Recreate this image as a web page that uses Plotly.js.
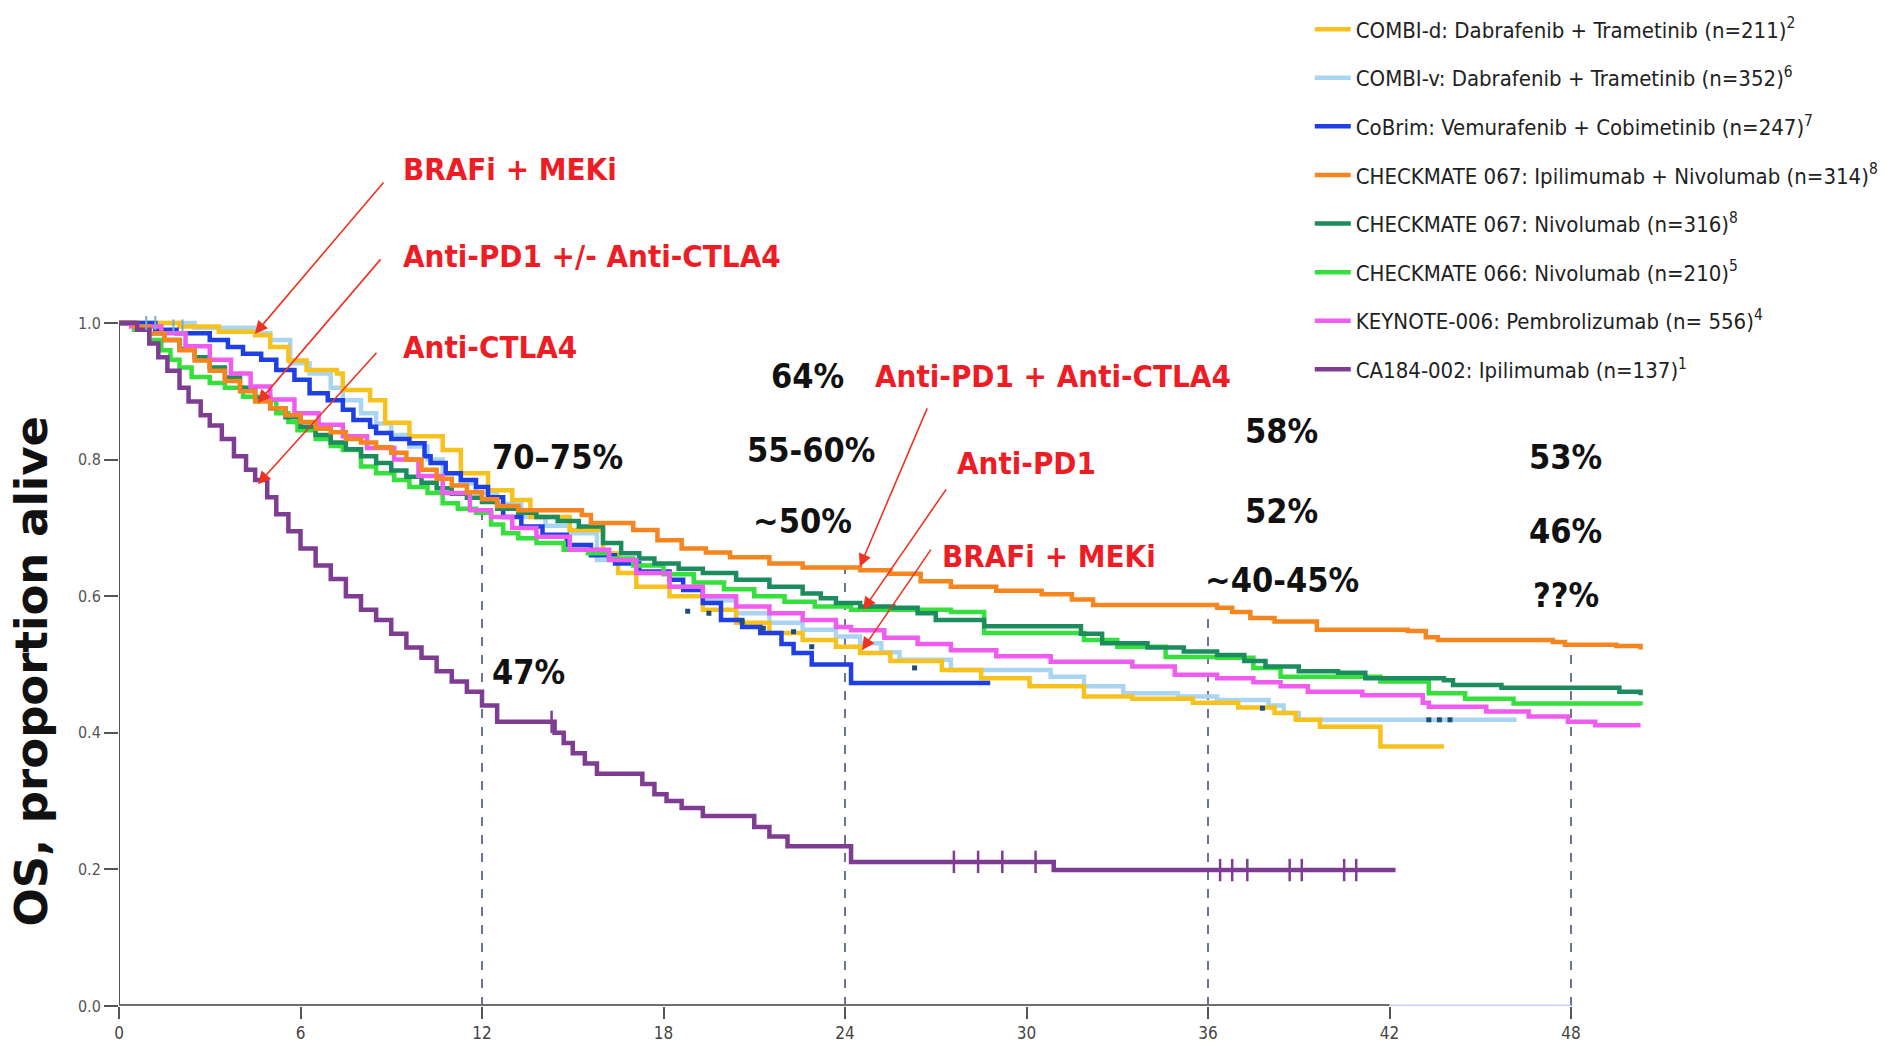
<!DOCTYPE html>
<html>
<head>
<meta charset="utf-8">
<script src="https://cdn.plot.ly/plotly-3.0.1.min.js"></script>
<style>
  html, body { margin: 0; padding: 0; background: #fff; }
  #chart { width: 1895px; height: 1049px; }
</style>
</head>
<body>
<div id="chart"></div>
<script>
// ---------------- DATA ----------------
const seriesNames = [
  "COMBI-d: Dabrafenib + Trametinib (n=211)<sup>2</sup>",
  "COMBI-v: Dabrafenib + Trametinib (n=352)<sup>6</sup>",
  "CoBrim: Vemurafenib + Cobimetinib (n=247)<sup>7</sup>",
  "CHECKMATE 067: Ipilimumab + Nivolumab (n=314)<sup>8</sup>",
  "CHECKMATE 067: Nivolumab (n=316)<sup>8</sup>",
  "CHECKMATE 066: Nivolumab (n=210)<sup>5</sup>",
  "KEYNOTE-006: Pembrolizumab (n= 556)<sup>4</sup>",
  "CA184-002: Ipilimumab (n=137)<sup>1</sup>"
];

// months (x) and proportion alive (y), step curves
const combiD_x = [0, 2.0, 3.3, 4.5, 5.0, 5.6, 6.2, 7.2, 7.4, 8.3, 8.8, 9.6, 10.7, 11.3, 12.2, 13.0, 13.6, 14.9, 16.0, 16.5, 17.1, 18.2, 19.3, 20.4, 21.5, 22.6, 23.7, 24.5, 25.5, 27.2, 28.5, 30.1, 31.9, 33.5, 35.5, 37.0, 38.2, 38.9, 39.7, 41.7, 43.8];
const combiD_y = [1.0, 0.995, 0.987, 0.982, 0.965, 0.945, 0.931, 0.926, 0.902, 0.887, 0.854, 0.834, 0.814, 0.78, 0.755, 0.741, 0.716, 0.697, 0.663, 0.634, 0.614, 0.60, 0.58, 0.561, 0.546, 0.536, 0.526, 0.517, 0.505, 0.492, 0.48, 0.468, 0.453, 0.45, 0.444, 0.437, 0.429, 0.419, 0.409, 0.38, 0.38];

const combiV_x = [0, 2.5, 4.6, 5.0, 5.66, 6.3, 7.0, 7.4, 8.0, 8.5, 9.0, 9.6, 10.2, 10.7, 11.3, 11.8, 12.5, 13.3, 14.1, 14.9, 15.8, 17.1, 18.2, 19.3, 20.4, 21.5, 22.6, 23.7, 24.5, 25.2, 25.8, 27.5, 30.8, 31.9, 33.2, 35.0, 36.3, 38.0, 38.5, 39.0, 46.2];
const combiV_y = [1.0, 0.993, 0.985, 0.975, 0.941, 0.926, 0.905, 0.887, 0.868, 0.853, 0.836, 0.819, 0.80, 0.78, 0.765, 0.751, 0.735, 0.716, 0.703, 0.692, 0.653, 0.634, 0.614, 0.594, 0.575, 0.561, 0.551, 0.541, 0.531, 0.518, 0.507, 0.492, 0.482, 0.468, 0.458, 0.453, 0.448, 0.44, 0.429, 0.419, 0.419];

const cobrim_x = [0, 1.2, 1.9, 3.0, 3.6, 4.1, 4.7, 5.2, 5.8, 6.3, 6.9, 7.4, 7.75, 8.3, 8.5, 9.0, 9.6, 10.1, 10.3, 10.8, 11.3, 11.8, 12.2, 12.7, 13.3, 14.0, 14.8, 15.6, 16.4, 17.2, 18.2, 18.65, 19.3, 19.9, 20.6, 21.2, 21.9, 22.3, 22.9, 24.2, 28.8];
const cobrim_y = [1.0, 0.99, 0.985, 0.975, 0.965, 0.955, 0.946, 0.931, 0.917, 0.897, 0.887, 0.873, 0.858, 0.848, 0.839, 0.83, 0.824, 0.805, 0.795, 0.78, 0.77, 0.76, 0.745, 0.716, 0.702, 0.69, 0.675, 0.66, 0.648, 0.636, 0.624, 0.609, 0.59, 0.565, 0.555, 0.546, 0.53, 0.517, 0.50, 0.473, 0.473];

const cm067combo_x = [0, 0.5, 1, 1.5, 2, 2.5, 3, 3.5, 4, 4.5, 5, 5.5, 6, 6.5, 7, 7.5, 8, 8.5, 9, 9.5, 10, 10.5, 11, 11.5, 12, 12.5, 13.2, 15.3, 15.6, 17.0, 17.8, 18.6, 19.4, 20.2, 21.5, 22.6, 24.5, 25.5, 26.5, 27.5, 29.0, 30.5, 31.5, 32.2, 36.3, 36.8, 37.4, 38.2, 39.6, 42.6, 43.2, 43.6, 47.4, 47.8, 49.5, 50.3];
const cm067combo_y = [1, 0.995, 0.985, 0.975, 0.96, 0.945, 0.93, 0.915, 0.90, 0.885, 0.875, 0.865, 0.855, 0.845, 0.84, 0.83, 0.825, 0.818, 0.81, 0.80, 0.785, 0.772, 0.762, 0.752, 0.742, 0.732, 0.726, 0.719, 0.707, 0.697, 0.682, 0.670, 0.664, 0.657, 0.648, 0.642, 0.638, 0.633, 0.622, 0.614, 0.608, 0.603, 0.595, 0.587, 0.583, 0.577, 0.568, 0.563, 0.551, 0.549, 0.540, 0.536, 0.533, 0.529, 0.527, 0.522];

const cm067nivo_x = [0, 0.5, 1, 1.5, 2, 2.5, 3, 3.5, 4, 4.5, 5, 5.5, 6, 6.5, 7, 7.5, 8, 8.5, 9, 9.5, 10, 10.5, 11, 11.5, 12, 12.5, 13.2, 13.8, 14.5, 15.2, 16.0, 16.6, 17.2, 17.7, 18.5, 19.3, 20.4, 21.5, 22.6, 23.2, 23.7, 24.5, 25.6, 26.4, 27.0, 28.6, 31.8, 32.5, 34.0, 35.2, 36.3, 37.2, 37.9, 39.0, 40.3, 41.2, 43.8, 44.1, 45.7, 49.6, 50.3];
const cm067nivo_y = [1, 0.995, 0.985, 0.975, 0.962, 0.95, 0.935, 0.92, 0.905, 0.89, 0.875, 0.862, 0.848, 0.836, 0.825, 0.815, 0.805, 0.795, 0.784, 0.775, 0.766, 0.758, 0.75, 0.744, 0.738, 0.728, 0.722, 0.716, 0.71, 0.702, 0.678, 0.663, 0.655, 0.648, 0.64, 0.634, 0.624, 0.614, 0.604, 0.597, 0.59, 0.585, 0.583, 0.575, 0.565, 0.556, 0.545, 0.531, 0.525, 0.519, 0.514, 0.505, 0.497, 0.49, 0.488, 0.48, 0.477, 0.47, 0.466, 0.46, 0.455];

const cm066_x = [0, 0.5, 1.0, 1.4, 1.7, 2.0, 2.4, 3.0, 3.5, 4.1, 4.6, 5.2, 5.6, 5.9, 6.5, 7.0, 7.4, 8.0, 8.5, 9.1, 9.6, 10.2, 10.7, 11.2, 11.8, 12.3, 12.7, 13.2, 13.8, 14.7, 15.5, 16.2, 17.0, 18.0, 19.0, 20.0, 21.0, 22.0, 23.0, 24.2, 27.5, 28.6, 31.9, 33.0, 34.6, 36.3, 37.5, 38.4, 41.7, 43.3, 44.5, 46.1, 50.3];
const cm066_y = [1, 0.99, 0.975, 0.96, 0.946, 0.935, 0.921, 0.912, 0.905, 0.892, 0.887, 0.868, 0.855, 0.843, 0.83, 0.82, 0.814, 0.79, 0.78, 0.77, 0.76, 0.751, 0.736, 0.728, 0.722, 0.705, 0.692, 0.685, 0.678, 0.668, 0.663, 0.655, 0.645, 0.632, 0.62, 0.61, 0.60, 0.592, 0.585, 0.58, 0.577, 0.546, 0.536, 0.526, 0.511, 0.51, 0.495, 0.482, 0.475, 0.458, 0.45, 0.443, 0.44];

const kn006_x = [0, 0.4, 1.4, 2.2, 3.0, 3.7, 4.35, 5.0, 5.8, 6.6, 7.4, 8.2, 9.1, 9.9, 10.7, 11.6, 12.3, 13.0, 13.8, 14.9, 16.2, 17.1, 18.2, 19.3, 20.4, 21.5, 22.6, 23.7, 24.2, 25.3, 26.4, 27.5, 29.0, 30.8, 33.5, 34.9, 36.3, 37.5, 38.4, 39.3, 41.1, 43.1, 43.3, 45.2, 46.6, 47.9, 48.8, 50.3];
const kn006_y = [1, 0.995, 0.985, 0.966, 0.946, 0.926, 0.907, 0.888, 0.868, 0.851, 0.834, 0.817, 0.80, 0.776, 0.751, 0.726, 0.716, 0.70, 0.687, 0.668, 0.653, 0.634, 0.614, 0.60, 0.585, 0.575, 0.565, 0.555, 0.55, 0.539, 0.53, 0.521, 0.512, 0.504, 0.497, 0.485, 0.48, 0.474, 0.468, 0.46, 0.455, 0.444, 0.438, 0.431, 0.424, 0.416, 0.411, 0.411];

const ca184_x = [0, 0.6, 1.0, 1.3, 1.6, 2.0, 2.3, 2.7, 3.0, 3.4, 3.8, 4.2, 4.5, 4.9, 5.2, 5.6, 6.0, 6.5, 7.0, 7.5, 8.0, 8.5, 9.0, 9.5, 10.0, 10.5, 11.0, 11.5, 12.0, 12.5, 14.4, 14.7, 15.0, 15.4, 15.8, 17.3, 17.7, 18.1, 18.6, 19.3, 21.0, 21.5, 22.1, 24.2, 30.9, 42.2];
const ca184_y = [1.0, 0.99, 0.97, 0.95, 0.93, 0.905, 0.885, 0.865, 0.85, 0.83, 0.805, 0.785, 0.77, 0.745, 0.72, 0.695, 0.67, 0.645, 0.625, 0.60, 0.58, 0.565, 0.545, 0.525, 0.51, 0.49, 0.475, 0.46, 0.44, 0.416, 0.40, 0.385, 0.37, 0.355, 0.34, 0.325, 0.31, 0.30, 0.29, 0.278, 0.262, 0.248, 0.234, 0.211, 0.199, 0.199];

// censoring tick marks
const ca184Cens_x = [14.3, 27.6, 28.4, 29.2, 30.3, 36.4, 36.8, 37.3, 38.7, 39.1, 40.5, 40.9];
const ca184Cens_y = [0.416, 0.211, 0.211, 0.211, 0.211, 0.199, 0.199, 0.199, 0.199, 0.199, 0.199, 0.199];
const combiVCens_x = [0.9, 1.2, 1.8, 2.1];
const combiVCens_y = [1.0, 1.0, 0.995, 0.995];
const darkCens_x = [18.8, 19.5, 20.6, 21.3, 22.3, 22.9, 26.3, 37.8, 43.3, 43.65, 44.0];
const darkCens_y = [0.578, 0.575, 0.563, 0.553, 0.548, 0.526, 0.495, 0.436, 0.419, 0.419, 0.419];

// landmark lines (month, height of dashed line)
const landmarkMonths = [12, 24, 36, 48];
const landmarkTops = [0.75, 0.64, 0.58, 0.52];

// axis ticks
const xTicks = [0, 6, 12, 18, 24, 30, 36, 42, 48];
const yTicks = [0, 0.2, 0.4, 0.6, 0.8, 1.0];
const yTickText = ["0.0", "0.2", "0.4", "0.6", "0.8", "1.0"];
const yTitleText = "OS, proportion alive";

// black landmark percentages: [text, month, y]
const pctLabels = ["70\u201375%", "47%", "64%", "55-60%", "~50%", "58%", "52%", "~40-45%", "53%", "46%", "??%"];
const pctX = [14.49, 13.53, 22.75, 22.88, 22.58, 38.44, 38.44, 38.44, 47.82, 47.82, 47.82];
const pctY = [0.804, 0.489, 0.922, 0.814, 0.710, 0.842, 0.725, 0.624, 0.804, 0.695, 0.602];

// red class labels (left edge in months, vertical centre in paper units)
const classLabels = ["BRAFi + MEKi", "Anti-PD1 +/- Anti-CTLA4", "Anti-CTLA4", "Anti-PD1 + Anti-CTLA4", "Anti-PD1", "BRAFi + MEKi"];
const classX = [9.33, 9.33, 9.33, 24.93, 27.63, 27.14];
const classY = [1.156, 1.036, 0.910, 0.870, 0.750, 0.6215];

// red arrows: head (month, y), tail offset in px
const arrowX = [4.49, 4.59, 4.59, 24.49, 24.6, 24.56];
const arrowY = [0.984, 0.883, 0.764, 0.643, 0.58, 0.521];
const arrowAX = [130, 124, 120, 68, 84, 70];
const arrowAY = [-153, -145, -133, -160, -122, -102];

// ---------------- STYLE ----------------
const colors = ["#F7C11E", "#A9D4F2", "#1D3FE3", "#F5851F", "#1C8C5E", "#35E03C", "#EF5CEF", "#7E3C93"];
const narrow = "'Liberation Sans Narrow', 'Arial Narrow', 'DejaVu Sans Condensed', sans-serif";

const xs = [combiD_x, combiV_x, cobrim_x, cm067combo_x, cm067nivo_x, cm066_x, kn006_x, ca184_x];
const ys = [combiD_y, combiV_y, cobrim_y, cm067combo_y, cm067nivo_y, cm066_y, kn006_y, ca184_y];
// drawing order (bottom -> top)
const drawOrder = [1, 0, 2, 5, 4, 6, 3, 7];

const traces = drawOrder.map(i => ({
  type: "scatter", mode: "lines",
  x: xs[i], y: ys[i],
  name: seriesNames[i],
  legendgroup: "g" + i,
  legendrank: i + 1,
  line: { shape: "hv", color: colors[i], width: 4.5 },
  hoverinfo: "name+x+y"
}));

traces.push({
  type: "scatter", mode: "markers", x: combiVCens_x, y: combiVCens_y, showlegend: false,
  marker: { symbol: "line-ns", size: 10, line: { width: 2, color: "#7FA9CC" } }, hoverinfo: "skip"
});
traces.push({
  type: "scatter", mode: "markers", x: darkCens_x, y: darkCens_y, showlegend: false,
  marker: { symbol: "square", size: 5, color: "#1F4E79" }, hoverinfo: "skip"
});
traces.push({
  type: "scatter", mode: "markers", x: ca184Cens_x, y: ca184Cens_y, showlegend: false,
  marker: { symbol: "line-ns", size: 16, line: { width: 2.5, color: colors[7] } }, hoverinfo: "skip"
});

const shapes = [];
landmarkMonths.forEach((m, k) => {
  shapes.push({ type: "line", xref: "x", yref: "y", x0: m, x1: m, y0: 0, y1: landmarkTops[k],
    line: { color: "#2B3A6B", width: 1.4, dash: "dash" }, layer: "below" });
});
shapes.push({ type: "line", xref: "x", yref: "y", x0: 0, x1: 0, y0: 0, y1: 1.0, line: { color: "#555", width: 2 } });
shapes.push({ type: "line", xref: "x", yref: "y", x0: 42, x1: 48, y0: 0, y1: 0, line: { color: "#C9D1F2", width: 3 } });
shapes.push({ type: "line", xref: "x", yref: "y", x0: 0, x1: 42, y0: 0, y1: 0, line: { color: "#6E6E6E", width: 4 } });

const annotations = [];
// y-axis title, placed where the reference has it
annotations.push({
  xref: "paper", yref: "paper", x: -0.0562, y: 0.4627, text: yTitleText, showarrow: false,
  textangle: -90, xanchor: "center", yanchor: "middle",
  font: { family: "'DejaVu Sans', sans-serif", size: 45, color: "#111", weight: "bold" }
});
pctLabels.forEach((t, k) => annotations.push({
  xref: "x", yref: "y", x: pctX[k], y: pctY[k], text: t, showarrow: false,
  xanchor: "center", yanchor: "middle",
  font: { family: narrow, size: 34, color: "#111", weight: "bold" }
}));
classLabels.forEach((t, k) => annotations.push({
  xref: "x", yref: "paper", x: classX[k], y: classY[k], text: t, showarrow: false,
  xanchor: "left", yanchor: "middle",
  font: { family: narrow, size: 31, color: "#EE1C25", weight: "bold" }
}));
arrowX.forEach((ax, k) => annotations.push({
  xref: "x", yref: "y", x: ax, y: arrowY[k], text: "", showarrow: true,
  ax: arrowAX[k], ay: arrowAY[k], arrowcolor: "#EE3322", arrowwidth: 1.6,
  arrowhead: 2, arrowsize: 1.6
}));

const layout = {
  width: 1895, height: 1049,
  margin: { l: 118.5, r: 202.5, t: 282, b: 43, autoexpand: false },
  paper_bgcolor: "#fff", plot_bgcolor: "#fff",
  showlegend: true,
  legend: {
    x: 0.757, xanchor: "left", y: 1.378, yanchor: "top",
    font: { family: narrow, size: 22, color: "#222" },
    itemwidth: 36,
    tracegroupgap: 17, bgcolor: "rgba(0,0,0,0)", traceorder: "grouped"
  },
  xaxis: {
    range: [0, 52], tickvals: xTicks, ticks: "outside", ticklen: 12, tickwidth: 1.5, tickcolor: "#555",
    showline: false, zeroline: false, showgrid: false, automargin: false,
    tickfont: { family: narrow, size: 17, color: "#444" }
  },
  yaxis: {
    range: [0, 1.06], tickvals: yTicks, ticktext: yTickText, ticks: "outside", ticklen: 14, tickwidth: 1.5, tickcolor: "#555",
    showline: false, zeroline: false, showgrid: false, automargin: false,
    tickfont: { family: narrow, size: 16, color: "#555" }
  },
  shapes: shapes,
  annotations: annotations
};

Plotly.newPlot("chart", traces, layout, { displayModeBar: false });
</script>
</body>
</html>
